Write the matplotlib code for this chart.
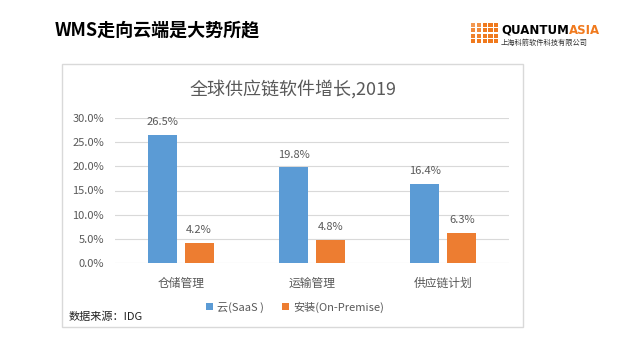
import numpy as np
import matplotlib
matplotlib.use("Agg")
import matplotlib.pyplot as plt
from matplotlib.patches import Rectangle

plt.rcParams['font.family'] = ['Noto Sans CJK SC', 'DejaVu Sans']

# 数据
categories = ["仓储管理", "运输管理", "供应链计划"]
saas = [26.5, 19.8, 16.4]
on_premise = [4.2, 4.8, 6.3]
series_names = ["云(SaaS )", "安装(On-Premise)"]
y_ticks = [0, 5, 10, 15, 20, 25, 30]

BLUE = "#5B9BD5"
ORANGE = "#ED7D31"
GRAY = "#595959"
W, H = 640, 360


def fx(px):
    return px / W


def fy(py):
    return 1 - py / H


fig = plt.figure(figsize=(6.4, 3.6), dpi=100)
fig.patch.set_facecolor("white")

# 页面标题
fig.text(fx(55), fy(30), "WMS走向云端是大势所趋", fontsize=13, fontweight="bold",
         color="black", ha="left", va="center")

# logo：橙色方格
for r in range(4):
    for c in range(5):
        a = 1.0 - 0.12 * (3 - r) * (c < 2) * 0.5 - 0.05 * (r + c == 0)
        fig.patches.append(Rectangle((fx(471 + c * 5.8), fy(27 + r * 5.4)), fx(4.2), 4.0 / H,
                                     transform=fig.transFigure, color="#F07A1E", alpha=a, lw=0))
t_q = fig.text(fx(501), fy(30), "QUANTUM", fontsize=8.5, fontweight="bold", color="black",
               family=["DejaVu Sans"], ha="left", va="center")
renderer = fig.canvas.get_renderer()
bb = t_q.get_window_extent(renderer)
fig.text(bb.x1 / W + fx(0.5), fy(30), "ASIA", fontsize=8.5, fontweight="bold", color="#F07A1E",
         family=["DejaVu Sans"], ha="left", va="center")
fig.text(fx(501), fy(43), "上海科箭软件科技有限公司", fontsize=5.2, color="#333333",
         ha="left", va="center")

# 图表外框
fig.patches.append(Rectangle((fx(62), fy(327)), fx(461), (327 - 64) / H,
                             transform=fig.transFigure, fill=False, ec="#D9D9D9", lw=1))

ax = fig.add_axes([fx(115), fy(263), fx(509 - 115), (263 - 118) / H])
x = np.arange(len(categories))
bw = 0.22
off = 0.141
b1 = ax.bar(x - off, saas, bw, color=BLUE, label=series_names[0], zorder=3)
b2 = ax.bar(x + off, on_premise, bw, color=ORANGE, label=series_names[1], zorder=3)

for bars, vals in ((b1, saas), (b2, on_premise)):
    for rect, v in zip(bars, vals):
        ax.annotate(f"{v:.1f}%", (rect.get_x() + rect.get_width() / 2, v),
                    xytext=(0, 9), textcoords="offset points", ha="center", va="center",
                    fontsize=8, color=GRAY)

ax.set_xlim(-0.5, 2.5)
ax.set_ylim(0, 30)
ax.set_yticks(y_ticks)
ax.set_yticklabels([f"{t:.1f}%" for t in y_ticks], fontsize=8, color=GRAY)
ax.set_xticks(x)
ax.set_xticklabels(categories, fontsize=8.5, color=GRAY)
ax.tick_params(axis="both", length=0)
ax.tick_params(axis="x", pad=10)
ax.tick_params(axis="y", pad=8)
ax.grid(axis="y", color="#D9D9D9", lw=0.8, zorder=0)
for s in ax.spines.values():
    s.set_visible(False)

fig.text(fx(293), fy(89), "全球供应链软件增长,2019", fontsize=13, color=GRAY,
         ha="center", va="center")

leg = fig.legend(handles=[b1, b2], loc="center", bbox_to_anchor=(fx(295), fy(307)),
                 ncol=2, frameon=False, fontsize=8, handlelength=0.6, handleheight=0.6,
                 handletextpad=0.4, columnspacing=1.6)
for t in leg.get_texts():
    t.set_color(GRAY)

fig.text(fx(69), fy(317), "数据来源：IDG", fontsize=8, fontweight="medium", color="#222222",
         ha="left", va="center")

fig.savefig("out.png", dpi=100)
